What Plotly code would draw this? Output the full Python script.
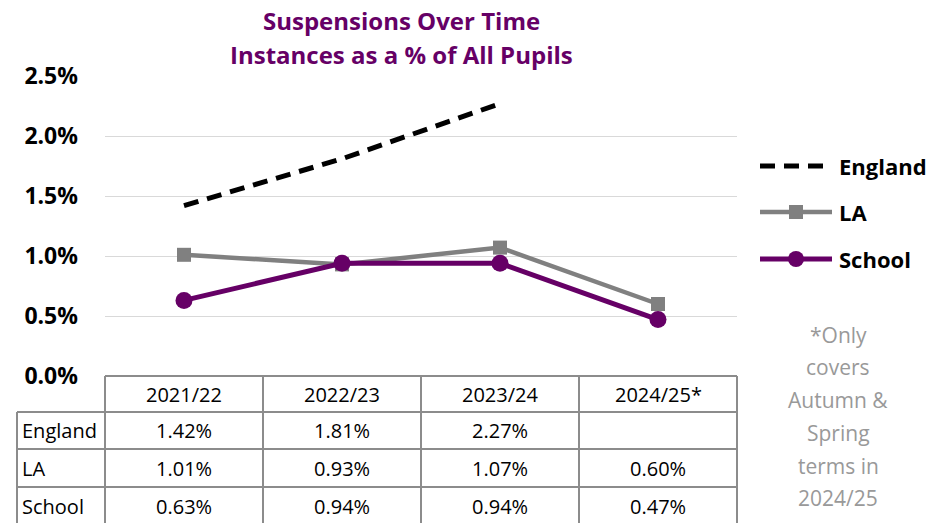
import plotly.graph_objects as go

# ---- data ----
categories = ["2021/22", "2022/23", "2023/24", "2024/25*"]
england = [1.42, 1.81, 2.27, None]
la = [1.01, 0.93, 1.07, 0.60]
school = [0.63, 0.94, 0.94, 0.47]
series_names = ["England", "LA", "School"]
y_ticks = [0.0, 0.5, 1.0, 1.5, 2.0, 2.5]
title_lines = ["Suspensions Over Time", "Instances as a % of All Pupils"]
footnote_lines = ["*Only", "covers", "Autumn &", "Spring", "terms in", "2024/25"]

# ---- layout geometry (pixels) ----
W, H = 948, 523
PL, PR, PT, PB = 105, 737, 76, 376
FONT = "Open Sans"
PURPLE = "#660066"
GRAY = "#808080"
BORDER = "#8c8c8c"


def px2x(px):
    return (px - PL) / (PR - PL)


def px2y(py):
    return (PB - py) / (PB - PT)


x_idx = list(range(len(categories)))

fig = go.Figure()
fig.add_trace(go.Scatter(x=x_idx, y=england, mode="lines", name="England",
                         line=dict(color="black", width=5, dash="15px,9px"),
                         showlegend=False))
fig.add_trace(go.Scatter(x=x_idx, y=la, mode="lines+markers", name="LA",
                         line=dict(color=GRAY, width=4.5),
                         marker=dict(symbol="square", size=14, color=GRAY),
                         showlegend=False))
fig.add_trace(go.Scatter(x=x_idx, y=school, mode="lines+markers", name="School",
                         line=dict(color=PURPLE, width=5),
                         marker=dict(symbol="circle", size=17, color=PURPLE),
                         showlegend=False))

shapes = []
annotations = []

# title
for t, py in zip(title_lines, [21, 55]):
    annotations.append(dict(text=f"<b>{t}</b>", x=px2x(401), y=px2y(py), xref="paper", yref="paper",
                            showarrow=False, xanchor="center", yanchor="middle",
                            font=dict(family=FONT, size=24, color=PURPLE)))

# data table
n = len(categories)
col_edges = [i / n for i in range(n + 1)]
label_left = px2x(17)
row_edges_px = [376, 412, 449, 487, 525]
row_edges = [px2y(p) for p in row_edges_px]
line = dict(color=BORDER, width=2)
shapes.append(dict(type="line", xref="paper", yref="paper", x0=0, x1=1, y0=row_edges[0], y1=row_edges[0], line=line))
for ry in row_edges[1:]:
    shapes.append(dict(type="line", xref="paper", yref="paper", x0=label_left, x1=1, y0=ry, y1=ry, line=line))
for cx in col_edges:
    shapes.append(dict(type="line", xref="paper", yref="paper", x0=cx, x1=cx, y0=row_edges[0], y1=row_edges[-1], line=line))
shapes.append(dict(type="line", xref="paper", yref="paper", x0=label_left, x1=label_left, y0=row_edges[1], y1=row_edges[-1], line=line))

cell_font = dict(family=FONT, size=20, color="#000000")
for i, c in enumerate(categories):
    cx = (col_edges[i] + col_edges[i + 1]) / 2
    annotations.append(dict(text=c, x=cx, y=(row_edges[0] + row_edges[1]) / 2, xref="paper", yref="paper",
                            showarrow=False, xanchor="center", yanchor="middle", font=cell_font))
for r, (name, vals) in enumerate(zip(series_names, [england, la, school])):
    cy = (row_edges[r + 1] + row_edges[r + 2]) / 2
    annotations.append(dict(text=name, x=px2x(20), y=cy, xref="paper", yref="paper",
                            showarrow=False, xanchor="left", yanchor="middle", font=cell_font))
    for i, v in enumerate(vals):
        if v is None:
            continue
        cx = (col_edges[i] + col_edges[i + 1]) / 2
        annotations.append(dict(text=f"{v:.2f}%", x=cx, y=cy, xref="paper", yref="paper",
                                showarrow=False, xanchor="center", yanchor="middle", font=cell_font))

# manual legend
leg_x0, leg_x1, leg_txt = px2x(760), px2x(832), px2x(837)
leg_ys = [px2y(166), px2y(212), px2y(259)]
shapes.append(dict(type="line", xref="paper", yref="paper", x0=leg_x0, x1=leg_x1, y0=leg_ys[0], y1=leg_ys[0],
                   line=dict(color="black", width=5, dash="15px,9px")))
shapes.append(dict(type="line", xref="paper", yref="paper", x0=leg_x0, x1=leg_x1, y0=leg_ys[1], y1=leg_ys[1],
                   line=dict(color=GRAY, width=4.5)))
shapes.append(dict(type="rect", xref="paper", yref="paper", x0=px2x(789), x1=px2x(803),
                   y0=px2y(219), y1=px2y(205), fillcolor=GRAY, line=dict(width=0)))
shapes.append(dict(type="line", xref="paper", yref="paper", x0=leg_x0, x1=leg_x1, y0=leg_ys[2], y1=leg_ys[2],
                   line=dict(color=PURPLE, width=5)))
shapes.append(dict(type="circle", xref="paper", yref="paper", x0=px2x(788), x1=px2x(804),
                   y0=px2y(267), y1=px2y(251), fillcolor=PURPLE, line=dict(width=0)))
for name, ly in zip(series_names, leg_ys):
    annotations.append(dict(text=f"<b>{name}</b>", x=leg_txt, y=ly, xref="paper", yref="paper",
                            showarrow=False, xanchor="left", yanchor="middle",
                            font=dict(family=FONT, size=22, color="black")))

# footnote
for t, py in zip(footnote_lines, [335, 367, 400, 433, 466, 498]):
    annotations.append(dict(text=t, x=px2x(838), y=px2y(py), xref="paper", yref="paper",
                            showarrow=False, xanchor="center", yanchor="middle",
                            font=dict(family=FONT, size=21, color="#999999")))

fig.update_layout(
    width=W, height=H,
    margin=dict(l=PL, r=W - PR, t=PT, b=H - PB, pad=0),
    paper_bgcolor="white", plot_bgcolor="white",
    showlegend=False,
    shapes=shapes, annotations=annotations,
    xaxis=dict(range=[-0.5, n - 0.5], showgrid=False, zeroline=False, showticklabels=False,
               showline=False, fixedrange=True),
    yaxis=dict(range=[0, 2.5], tickvals=y_ticks, ticktext=[f"{v:.1f}%" for v in y_ticks],
               showgrid=True, gridcolor="#d9d9d9", gridwidth=1, zeroline=False, showline=False,
               ticklabelstandoff=26,
               tickfont=dict(family=FONT, size=23, color="black", weight="bold"), fixedrange=True),
)

fig.write_html("out.html", config={"displayModeBar": False},
               post_script="document.body.style.margin='0';document.body.style.overflow='hidden';")
